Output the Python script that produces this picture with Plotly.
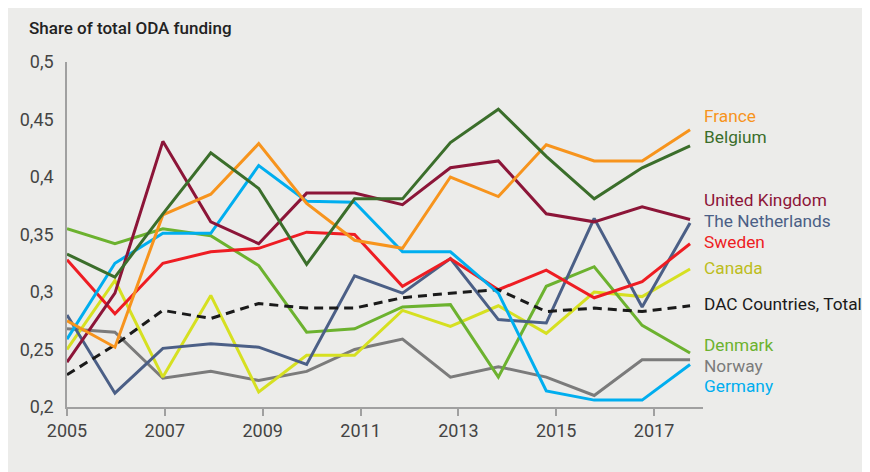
import plotly.graph_objects as go

years = list(range(2005, 2019))
tick_years = [2005, 2007, 2009, 2011, 2013, 2015, 2017]

france = [0.275, 0.252, 0.367, 0.385, 0.429, 0.377, 0.345, 0.338, 0.400, 0.383, 0.428, 0.414, 0.414, 0.441]
belgium = [0.333, 0.313, 0.368, 0.421, 0.390, 0.324, 0.381, 0.381, 0.430, 0.459, 0.418, 0.381, 0.408, 0.427]
uk = [0.239, 0.299, 0.431, 0.361, 0.342, 0.386, 0.386, 0.376, 0.408, 0.414, 0.368, 0.361, 0.374, 0.363]
netherlands = [0.280, 0.212, 0.251, 0.255, 0.252, 0.237, 0.314, 0.299, 0.329, 0.276, 0.273, 0.364, 0.287, 0.360]
sweden = [0.328, 0.281, 0.325, 0.335, 0.338, 0.352, 0.350, 0.305, 0.329, 0.302, 0.319, 0.295, 0.309, 0.342]
canada = [0.250, 0.310, 0.226, 0.297, 0.213, 0.245, 0.245, 0.284, 0.270, 0.288, 0.264, 0.300, 0.296, 0.320]
dac_total = [0.228, 0.254, 0.284, 0.277, 0.290, 0.286, 0.286, 0.295, 0.299, 0.302, 0.283, 0.286, 0.283, 0.288]
denmark = [0.355, 0.342, 0.355, 0.349, 0.323, 0.265, 0.268, 0.287, 0.289, 0.226, 0.305, 0.322, 0.271, 0.247]
norway = [0.268, 0.265, 0.225, 0.231, 0.223, 0.231, 0.250, 0.259, 0.226, 0.235, 0.226, 0.210, 0.241, 0.241]
germany = [0.259, 0.325, 0.351, 0.351, 0.410, 0.379, 0.378, 0.335, 0.335, 0.299, 0.214, 0.206, 0.206, 0.237]

series = [
    ("Norway", norway, "#7B7B7B", "#7B7B7B", 0.236, "solid"),
    ("Canada", canada, "#D6E021", "#BDBD1E", 0.321, "solid"),
    ("Denmark", denmark, "#6CB22F", "#6CB22F", 0.254, "solid"),
    ("The Netherlands", netherlands, "#4B5F86", "#4B5F86", 0.362, "solid"),
    ("Sweden", sweden, "#EE1D23", "#EE1D23", 0.3435, "solid"),
    ("DAC Countries, Total", dac_total, "#1A1A1A", "#1A1A1A", 0.290, "dash"),
    ("Germany", germany, "#00AEEF", "#00AEEF", 0.218, "solid"),
    ("United Kingdom", uk, "#8C1538", "#8C1538", 0.380, "solid"),
    ("France", france, "#F7941D", "#F7941D", 0.453, "solid"),
    ("Belgium", belgium, "#3B6E2B", "#3B6E2B", 0.435, "solid"),
]

fig = go.Figure()
annotations = []
for name, vals, color, tcolor, ly, dash in series:
    fig.add_trace(go.Scatter(
        x=years, y=vals, mode="lines", name=name,
        line=dict(color=color, width=3, dash="9px,6px" if dash == "dash" else "solid"),
        hoverinfo="skip", showlegend=False,
    ))
    annotations.append(dict(
        x=1.0, xref="paper", y=ly, yref="y", text=name, showarrow=False,
        xanchor="left", yanchor="middle", xshift=-1,
        font=dict(family="Roboto", size=17.3, color=tcolor),
    ))

# empty helper trace so the tick axis is drawn
fig.add_trace(go.Scatter(x=[None], y=[None], xaxis="x2", yaxis="y",
                         mode="lines", hoverinfo="skip", showlegend=False))

annotations.append(dict(
    x=-40 / 636, y=1 + 34 / 345, xref="paper", yref="paper",
    text="Share of total ODA funding", showarrow=False,
    xanchor="left", yanchor="middle",
    font=dict(family="Roboto", size=17, color="#222222", weight=500),
))

fig.update_layout(
    width=862, height=464,
    margin=dict(l=59, r=167, t=54, b=65),
    paper_bgcolor="#ECECEA", plot_bgcolor="#ECECEA",
    xaxis=dict(range=[2005, 2018.27], visible=False, fixedrange=True),
    xaxis2=dict(
        overlaying="x", side="bottom", anchor="y",
        range=[2005, 2018], tickvals=tick_years, ticktext=[str(t) for t in tick_years],
        showline=True, linecolor="#A0A0A0", linewidth=1.5,
        ticks="outside", ticklen=7, tickcolor="#A0A0A0", tickwidth=1.5,
        showgrid=False, zeroline=False,
        tickfont=dict(family="Roboto", size=18, color="#444444"),
    ),
    yaxis=dict(
        range=[0.2, 0.5], tickvals=[0.2, 0.25, 0.3, 0.35, 0.4, 0.45, 0.5],
        ticktext=["0,2", "0,25", "0,3", "0,35", "0,4", "0,45", "0,5"],
        showline=True, linecolor="#A0A0A0", linewidth=1.5,
        showgrid=False, zeroline=False, ticks="", ticklabelstandoff=8,
        tickfont=dict(family="Roboto", size=18, color="#444444"),
    ),
    annotations=annotations,
    hovermode=False,
)

fig.write_html("out.html")
